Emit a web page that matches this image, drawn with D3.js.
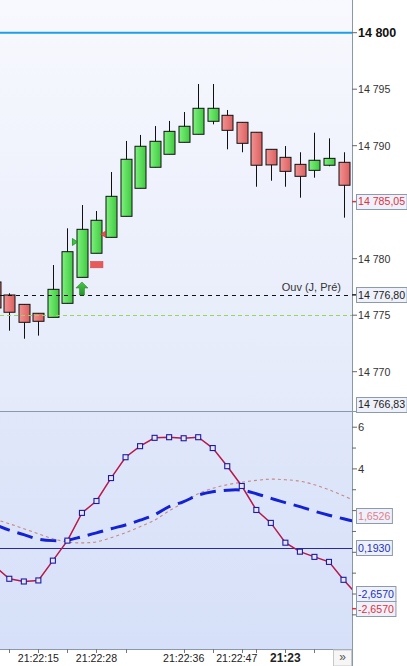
<!DOCTYPE html>
<html><head><meta charset="utf-8">
<script src="https://cdn.jsdelivr.net/npm/d3@7"></script>
<style>html,body{margin:0;padding:0;background:#fff;overflow:hidden}</style>
</head><body><svg id="c" width="407" height="666"></svg>
<script>
// ---------- DATA ----------
const candleBars = d3.range(-1, 24);            // bar index -1 .. 23
const openP  = [14777.94,14776.79,14775.96,14775.17,14774.81,14776.05,14778.35,14780.48,14781.89,14783.75,14786.23,14788.09,14789.24,14790.30,14791.01,14792.16,14792.69,14792.07,14791.19,14789.68,14788.97,14788.35,14787.82,14788.27,14788.53];
const highP  = [14778.20,14776.94,14775.96,14775.17,14779.44,14782.69,14784.75,14784.22,14787.67,14790.42,14790.95,14791.74,14792.19,14792.98,14795.46,14795.46,14793.16,14792.07,14791.19,14789.68,14789.97,14789.42,14791.15,14790.65,14789.42];
const lowP   = [14775.20,14773.63,14772.92,14773.19,14774.81,14776.05,14778.35,14780.48,14781.89,14783.75,14786.23,14788.09,14789.24,14790.30,14791.01,14791.89,14789.68,14789.42,14786.37,14786.90,14786.37,14785.40,14787.17,14788.18,14783.63];
const closeP = [14775.64,14775.26,14774.37,14774.46,14777.29,14780.62,14782.60,14783.40,14785.52,14788.80,14789.95,14790.39,14791.27,14791.72,14793.31,14793.31,14791.36,14790.21,14788.27,14788.30,14787.73,14787.29,14788.71,14788.88,14786.50];

const indBars = d3.range(-1, 25);               // bar index -1 .. 24
const oscValues    = [-0.67,-1.27,-1.40,-1.35,-0.40,0.56,1.89,2.46,3.56,4.56,5.09,5.49,5.52,5.47,5.52,5.00,4.13,3.18,2.03,1.41,0.46,0.03,-0.22,-0.46,-1.32,-2.09];
const signalValues = [1.33,1.06,0.85,0.63,0.56,0.58,0.75,0.93,1.13,1.31,1.54,1.80,2.19,2.43,2.74,2.90,2.98,2.98,2.81,2.59,2.38,2.19,1.97,1.78,1.61,1.44];
const slowValues   = [1.59,1.37,1.13,0.89,0.65,0.50,0.45,0.50,0.70,0.94,1.23,1.54,1.99,2.38,2.81,3.07,3.24,3.36,3.45,3.51,3.48,3.41,3.24,3.00,2.71,2.38];

const priceTicks = [14770,14775,14780,14790,14795,14800];   // 14 785 is hidden under the last-price box
const boldPrice = 14800;
const indTicksMajor = [4,6];                                 // 2, 0, -2 are hidden under the value boxes
const indTicksMinor = [-3,-2,-1,0,1,2,3,5];
const zeroLevel = 0.193;

const timeTickBars = [0,2,4,6,8,12,14,16,17,19,21];
const timeLabelBars = [2,6,12,16,19];
const timeLabelTexts = ["21:22:15","21:22:28","21:22:36","21:22:47","21:23"];

const prevOpen = 14776.80, prevOpenText = "Ouv (J, Pré)";
const level14775 = 14775;

const priceBoxes = [
  {v:14785.05, text:"14 785,05", color:"#e0303c"},
  {v:14776.80, text:"14 776,80", color:"#222"},
  {v:14766.83, text:"14 766,83", color:"#222"}
];
const indBoxes = [
  {v:1.6526, text:"1,6526", color:"#e07f8c", shift:-2},
  {v:0.1930, text:"0,1930", color:"#2030c0", shift:0},
  {v:-2.6570, text:"-2,6570", color:"#2030c0", shift:-14},
  {v:-2.6570, text:"-2,6570", color:"#e0303c", shift:1}
];
const buyFlag = {bar:5, price:14781.48};
const sellFlag = {bar:7, price:14782.17};
const stopRect = {bar:6, price:14779.50};
const upArrow = {bar:5, price:14777.94};

// ---------- LAYOUT ----------
const W = 407, H = 666, plotR = 352, priceTop = 0, priceBot = 411, indTop = 412, indBot = 649;
const svg = d3.select("#c");
const FONT = "'Liberation Sans', Arial, sans-serif";
const FS = 10.6;

const x = d3.scaleLinear().domain([0, 23]).range([9.3, 343.5]);
const yP = d3.scaleLinear().domain([14770, 14800]).range([371.7, 32.7]);
const yI = d3.scaleLinear().domain([0, 6]).range([427.2 + 6*20.85, 427.2]);

const defs = svg.append("defs");
function vgrad(id, c1, c2){
  const g = defs.append("linearGradient").attr("id", id).attr("x1",0).attr("y1",0).attr("x2",0).attr("y2",1);
  g.append("stop").attr("offset","0%").attr("stop-color",c1);
  g.append("stop").attr("offset","100%").attr("stop-color",c2);
}
function hgrad(id, c1, c2){
  const g = defs.append("linearGradient").attr("id", id).attr("x1",0).attr("y1",0).attr("x2",1).attr("y2",0);
  g.append("stop").attr("offset","0%").attr("stop-color",c1);
  g.append("stop").attr("offset","100%").attr("stop-color",c2);
}
vgrad("bgP", "#f8f9fe", "#e4eafa");
vgrad("bgI", "#e0e7fa", "#d6e0f8");
hgrad("gUp", "#7ef27e", "#3fc93f");
hgrad("gDn", "#f29393", "#dc5f5f");
vgrad("gArrow", "#4cc44c", "#23982a");
defs.append("clipPath").attr("id","clipP").append("rect").attr("x",0).attr("y",priceTop).attr("width",plotR).attr("height",priceBot-priceTop);
defs.append("clipPath").attr("id","clipI").append("rect").attr("x",0).attr("y",indTop).attr("width",plotR).attr("height",indBot-indTop);

svg.append("rect").attr("width",W).attr("height",H).attr("fill","#fff");
svg.append("rect").attr("x",0).attr("y",priceTop).attr("width",plotR).attr("height",priceBot-priceTop).attr("fill","url(#bgP)");
svg.append("rect").attr("x",0).attr("y",indTop).attr("width",plotR).attr("height",indBot-indTop).attr("fill","url(#bgI)");

// ---------- PRICE PANEL ----------
const gP = svg.append("g").attr("clip-path","url(#clipP)");

gP.append("line").attr("x1",0).attr("x2",plotR).attr("y1",yP(boldPrice)).attr("y2",yP(boldPrice))
  .attr("stroke","#1aa0ea").attr("stroke-width",2);

const candles = candleBars.map((b,i)=>({b, o:openP[i], h:highP[i], l:lowP[i], c:closeP[i]}));
const cg = gP.append("g");
cg.selectAll("line.wick").data(candles).join("line")
  .attr("x1",d=>Math.round(x(d.b))+0.5).attr("x2",d=>Math.round(x(d.b))+0.5)
  .attr("y1",d=>yP(d.h)).attr("y2",d=>yP(d.l)).attr("stroke","#111").attr("stroke-width",1);
cg.selectAll("rect.body").data(candles).join("rect")
  .attr("x",d=>Math.round(x(d.b))-5)
  .attr("width",11)
  .attr("y",d=>yP(Math.max(d.o,d.c)))
  .attr("height",d=>Math.max(1, Math.abs(yP(d.o)-yP(d.c))))
  .attr("fill",d=>d.c>=d.o?"url(#gUp)":"url(#gDn)")
  .attr("stroke","#111").attr("stroke-width",1);

gP.append("line").attr("x1",0).attr("x2",plotR).attr("y1",Math.round(yP(prevOpen))+0.5).attr("y2",Math.round(yP(prevOpen))+0.5)
  .attr("stroke","#111").attr("stroke-dasharray","4,4");
gP.append("line").attr("x1",0).attr("x2",plotR).attr("y1",Math.round(yP(level14775))+0.5).attr("y2",Math.round(yP(level14775))+0.5)
  .attr("stroke","#98d65a").attr("stroke-width",1.1).attr("stroke-dasharray","4,3");
gP.append("text").attr("x",341).attr("y",yP(prevOpen)-4).attr("text-anchor","end")
  .attr("font-family",FONT).attr("font-size",11).attr("fill","#333").text(prevOpenText);

{
  const fx = x(buyFlag.bar)-9.5, fy = yP(buyFlag.price);
  gP.append("path").attr("d",`M${fx},${fy-3.5} L${fx},${fy+3.5} L${fx+5},${fy} Z`)
    .attr("fill","#3cc63c").attr("stroke","#1e8a1e").attr("stroke-width",0.8);
  const sx = x(sellFlag.bar)-5.5, sy = yP(sellFlag.price);
  gP.append("path").attr("d",`M${sx},${sy-3} L${sx},${sy+3} L${sx-5},${sy} Z`)
    .attr("fill","#e85050").attr("stroke","#c03030").attr("stroke-width",0.6);
  gP.append("rect").attr("x",x(stopRect.bar)-6).attr("y",yP(stopRect.price)-3).attr("width",12.5).attr("height",6.5)
    .attr("fill","#e85a5a").attr("stroke","#d04848").attr("stroke-width",0.5);
  const ax = x(upArrow.bar), ay = yP(upArrow.price);
  gP.append("path").attr("d",`M${ax},${ay} L${ax+6},${ay+6} L${ax+2.5},${ay+6} L${ax+2.5},${ay+13} L${ax-2.5},${ay+13} L${ax-2.5},${ay+6} L${ax-6},${ay+6} Z`)
    .attr("fill","url(#gArrow)").attr("stroke","#2a8a2a").attr("stroke-width",0.6);
}

// ---------- INDICATOR PANEL ----------
const gI = svg.append("g").attr("clip-path","url(#clipI)");
gI.append("line").attr("x1",0).attr("x2",plotR).attr("y1",Math.round(yI(zeroLevel))+0.5).attr("y2",Math.round(yI(zeroLevel))+0.5)
  .attr("stroke","#2a2aa0").attr("stroke-width",1);
const lineGen = (vals, curve)=> d3.line().x((d,i)=>x(indBars[i])).y(d=>yI(d)).curve(curve)(vals);
gI.append("path").attr("d",lineGen(slowValues, d3.curveCatmullRom)).attr("fill","none")
  .attr("stroke","#c98888").attr("stroke-width",1.1).attr("stroke-dasharray","3,3");
gI.append("path").attr("d",lineGen(signalValues, d3.curveCatmullRom)).attr("fill","none")
  .attr("stroke","#1422d4").attr("stroke-width",3).attr("stroke-dasharray","16,8");
gI.append("path").attr("d",lineGen(oscValues, d3.curveLinear)).attr("fill","none")
  .attr("stroke","#b8184c").attr("stroke-width",1.5);
const pts = oscValues.map((v,i)=>({b:indBars[i], v}));
gI.selectAll("rect.pt").data(pts).join("rect")
  .attr("x",d=>x(d.b)-2.5).attr("y",d=>yI(d.v)-2.5).attr("width",5).attr("height",5)
  .attr("fill","#e8e4fa").attr("stroke","#1c1ca0").attr("stroke-width",1.1);

// ---------- FRAMES / AXES ----------
svg.append("line").attr("x1",0).attr("x2",W).attr("y1",priceBot+0.5).attr("y2",priceBot+0.5).attr("stroke","#8a98ae");
svg.append("line").attr("x1",0).attr("x2",plotR).attr("y1",indBot+0.5).attr("y2",indBot+0.5).attr("stroke","#8a98ae");
svg.append("line").attr("x1",plotR+0.5).attr("x2",plotR+0.5).attr("y1",0).attr("y2",H).attr("stroke","#8a98ae");

const axP = svg.append("g");
priceTicks.forEach(t=>{
  const y = yP(t);
  axP.append("line").attr("x1",plotR).attr("x2",plotR+5).attr("y1",y).attr("y2",y).attr("stroke","#666");
  axP.append("text").attr("x",358).attr("y",y).attr("dy","0.36em")
    .attr("font-family",FONT).attr("font-size",t===boldPrice?12.5:FS)
    .attr("font-weight",t===boldPrice?"bold":"normal").attr("fill",t===boldPrice?"#111":"#333")
    .text(d3.format(",")(t).replace(",", " "));
});
indTicksMinor.forEach(t=>{
  axP.append("line").attr("x1",plotR).attr("x2",plotR+4).attr("y1",yI(t)).attr("y2",yI(t)).attr("stroke","#666");
});
indTicksMajor.forEach(t=>{
  const y = yI(t);
  axP.append("line").attr("x1",plotR).attr("x2",plotR+5).attr("y1",y).attr("y2",y).attr("stroke","#666");
  axP.append("text").attr("x",358).attr("y",y).attr("dy","0.36em")
    .attr("font-family",FONT).attr("font-size",FS+0.6).attr("fill","#333").text(t);
});

function box(y, text, color, tickColor){
  const g = svg.append("g");
  if (tickColor) g.append("line").attr("x1",plotR).attr("x2",plotR+5).attr("y1",y).attr("y2",y).attr("stroke",tickColor).attr("stroke-width",1.5);
  const t = g.append("text").attr("x",358).attr("y",y).attr("dy","0.36em")
    .attr("font-family",FONT).attr("font-size",FS).attr("fill",color).text(text);
  const w = t.node().getComputedTextLength();
  g.insert("rect","text").attr("x",356.5).attr("y",Math.round(y)-7.5).attr("width",w+3.5).attr("height",15)
    .attr("fill","#eef1fa").attr("stroke","#8c9aae");
}
box(yP(priceBoxes[0].v), priceBoxes[0].text, priceBoxes[0].color, "#e0303c");
box(yP(priceBoxes[1].v), priceBoxes[1].text, priceBoxes[1].color, "#222");
box(Math.min(yP(priceBoxes[2].v), 404.5), priceBoxes[2].text, priceBoxes[2].color, null);
indBoxes.forEach(b=> box(yI(b.v)+b.shift, b.text, b.color, b.color==="#e0303c"?"#e0303c":null));

const axT = svg.append("g");
timeTickBars.forEach(b=>{
  axT.append("line").attr("x1",Math.round(x(b))+0.5).attr("x2",Math.round(x(b))+0.5).attr("y1",indBot).attr("y2",indBot+4).attr("stroke","#777");
});
timeLabelBars.forEach((b,i)=>{
  const bold = timeLabelTexts[i].length===5;
  axT.append("text").attr("x",x(b)+(i===3?-5:0)).attr("y",662).attr("text-anchor","middle")
    .attr("font-family",FONT).attr("font-size",bold?12:10.6).attr("font-weight",bold?"bold":"normal")
    .attr("fill","#222").text(timeLabelTexts[i]);
});
svg.append("rect").attr("x",333.5).attr("y",indBot+1).attr("width",18).attr("height",H-indBot-1).attr("fill","#f6f6f6").attr("stroke","#c8c8c8");
svg.append("text").attr("x",342.5).attr("y",661).attr("text-anchor","middle").attr("font-family",FONT).attr("font-size",12).attr("fill","#555").text("»");
</script></body></html>
